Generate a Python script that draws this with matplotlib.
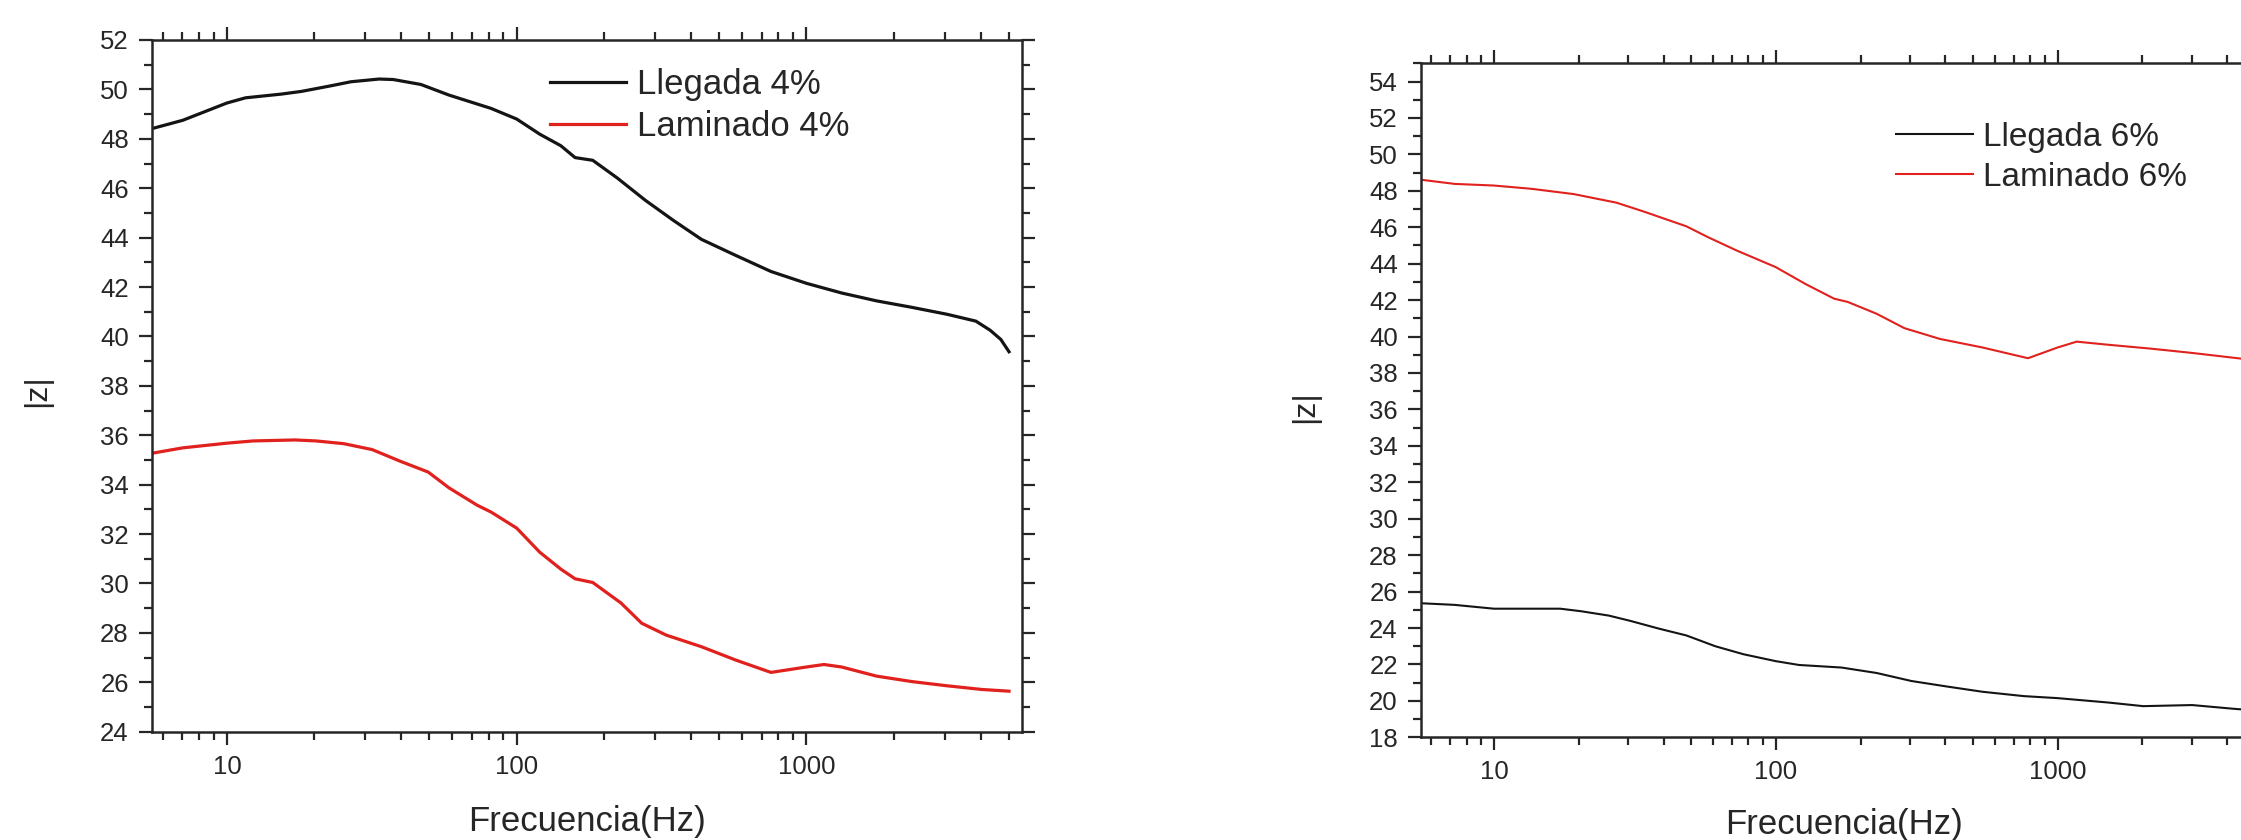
"""Impedance modulus |z| vs frequency for the 4% and 6% samples.

Two side-by-side Bode-style panels (log frequency axis), each comparing the
as-received ("Llegada") and rolled ("Laminado") condition.
"""

import matplotlib
matplotlib.use("Agg")
import matplotlib.pyplot as plt
from matplotlib.ticker import LogLocator, MultipleLocator, NullFormatter, FixedLocator, FixedFormatter

# --- 4% sample ---------------------------------------------------------------
FREQ_4_LLEGADA = [5.5, 7.04, 10, 11.6, 15.4, 18.1, 22.7, 26.8, 33.5, 37.5, 46.7,
                  58.4, 81.6, 100, 120, 142, 159, 183, 222, 278, 348, 434, 570,
                  754, 1000, 1321, 1745, 2306, 3047, 3842, 4305, 4683, 5000]
Z_4_LLEGADA = [48.41, 48.75, 49.45, 49.66, 49.81, 49.92, 50.14, 50.31, 50.42,
               50.40, 50.20, 49.77, 49.23, 48.80, 48.19, 47.72, 47.24, 47.13,
               46.42, 45.51, 44.69, 43.93, 43.28, 42.63, 42.15, 41.76, 41.44,
               41.18, 40.90, 40.62, 40.25, 39.88, 39.38]

FREQ_4_LAMINADO = [5.5, 7.04, 10, 12.3, 17.2, 20.3, 25.3, 31.7, 39.6, 49.5, 58.4,
                   73.0, 81.6, 100, 120, 142, 159, 183, 229, 270, 328, 434, 570,
                   754, 1000, 1149, 1321, 1745, 2306, 3047, 4024, 5000]
Z_4_LAMINADO = [35.27, 35.49, 35.68, 35.77, 35.81, 35.77, 35.66, 35.42, 34.95,
                34.51, 33.87, 33.17, 32.89, 32.24, 31.27, 30.58, 30.19, 30.04,
                29.21, 28.39, 27.91, 27.44, 26.90, 26.40, 26.62, 26.72, 26.62,
                26.25, 26.03, 25.86, 25.71, 25.64]

# --- 6% sample ---------------------------------------------------------------
FREQ_6_LLEGADA = [5.5, 7.25, 10, 13.6, 17.2, 20.4, 25.6, 30.5, 38.4, 48.2, 61,
                  76.8, 100, 121, 171, 228, 303, 404, 541, 759, 1000, 1510, 2011,
                  3000, 4246, 5000]
Z_6_LLEGADA = [25.36, 25.27, 25.06, 25.06, 25.06, 24.92, 24.68, 24.39, 23.97,
               23.59, 23.00, 22.56, 22.18, 21.97, 21.83, 21.53, 21.09, 20.79,
               20.50, 20.26, 20.15, 19.91, 19.71, 19.77, 19.56, 19.48]

FREQ_6_LAMINADO = [5.5, 7.25, 10, 13.6, 19.2, 27.2, 34.2, 48.2, 57.4, 72.5, 100,
                   128, 161, 180, 228, 286, 382, 541, 785, 1000, 1168, 1510, 2128,
                   3000, 4350, 5000]
Z_6_LAMINADO = [48.61, 48.38, 48.29, 48.11, 47.82, 47.35, 46.85, 46.05, 45.46,
                44.73, 43.81, 42.87, 42.08, 41.90, 41.25, 40.46, 39.87, 39.40,
                38.81, 39.40, 39.72, 39.55, 39.34, 39.10, 38.81, 38.70]

X_LIMITS = (5.5, 5530)
X_TICKS = [10, 100, 1000]
X_TICK_LABELS = ["10", "100", "1000"]

BLACK = "#141414"
RED = "#e0211d"
INK = "#262626"

plt.rcParams["font.family"] = ["Liberation Sans", "DejaVu Sans"]


def style_axes(ax, ylim, label_x, label_y, ylabel_x, ylabel_y):
    ax.set_xscale("log")
    ax.set_xlim(*X_LIMITS)
    ax.set_ylim(*ylim)
    ax.xaxis.set_major_locator(FixedLocator(X_TICKS))
    ax.xaxis.set_major_formatter(FixedFormatter(X_TICK_LABELS))
    ax.xaxis.set_minor_locator(LogLocator(base=10, subs=range(2, 10), numticks=20))
    ax.xaxis.set_minor_formatter(NullFormatter())
    ax.yaxis.set_major_locator(MultipleLocator(2))
    ax.yaxis.set_minor_locator(MultipleLocator(1))
    ax.tick_params(which="both", direction="out", top=True, right=True,
                   width=1.6, color=INK, labelcolor=INK, labelsize=18.5)
    ax.tick_params(which="major", length=9.5, pad=7)
    ax.tick_params(which="minor", length=5.5)
    for spine in ax.spines.values():
        spine.set_linewidth(1.8)
        spine.set_color(INK)
    ax.set_xlabel("Frecuencia(Hz)", fontsize=25, color=INK, va="center")
    ax.xaxis.set_label_coords(label_x, label_y)
    ax.set_ylabel("|z|", fontsize=23, color=INK, va="center")
    ax.yaxis.set_label_coords(ylabel_x, ylabel_y)


def main():
    fig = plt.figure(figsize=(22.41, 8.4), dpi=100)
    W, H = 2241, 840

    # left panel, 4 %
    ax1 = fig.add_axes([151.7 / W, 108.3 / H, 870 / W, 691.7 / H])
    ax1.plot(FREQ_4_LLEGADA, Z_4_LLEGADA, color=BLACK, lw=2.3, label="Llegada 4%")
    ax1.plot(FREQ_4_LAMINADO, Z_4_LAMINADO, color=RED, lw=2.3, label="Laminado 4%")
    style_axes(ax1, (24, 52), 0.5, -0.130, -0.1315, 0.493)
    ax1.legend(loc="upper left", bbox_to_anchor=(550 / W, 1 - 68 / H),
               bbox_transform=fig.transFigure, frameon=False, fontsize=25,
               handlelength=2.2, handletextpad=0.3, labelspacing=0.27,
               borderpad=0, borderaxespad=0, labelcolor=INK)

    # right panel, 6 % (runs past the right edge of the canvas)
    ax2 = fig.add_axes([1420.7 / W, 102.7 / H, 846.3 / W, 674 / H])
    ax2.plot(FREQ_6_LLEGADA, Z_6_LLEGADA, color=BLACK, lw=1.5, label="Llegada 6%")
    ax2.plot(FREQ_6_LAMINADO, Z_6_LAMINADO, color=RED, lw=1.5, label="Laminado 6%")
    style_axes(ax2, (18, 55), 0.5, -0.129, -0.137, 0.49)
    ax2.legend(loc="upper left", bbox_to_anchor=(1896 / W, 1 - 122 / H),
               bbox_transform=fig.transFigure, frameon=False, fontsize=24,
               handlelength=2.3, handletextpad=0.3, labelspacing=0.27,
               borderpad=0, borderaxespad=0, labelcolor=INK)

    fig.savefig("out.png", dpi=100)
    plt.close(fig)


if __name__ == "__main__":
    main()
